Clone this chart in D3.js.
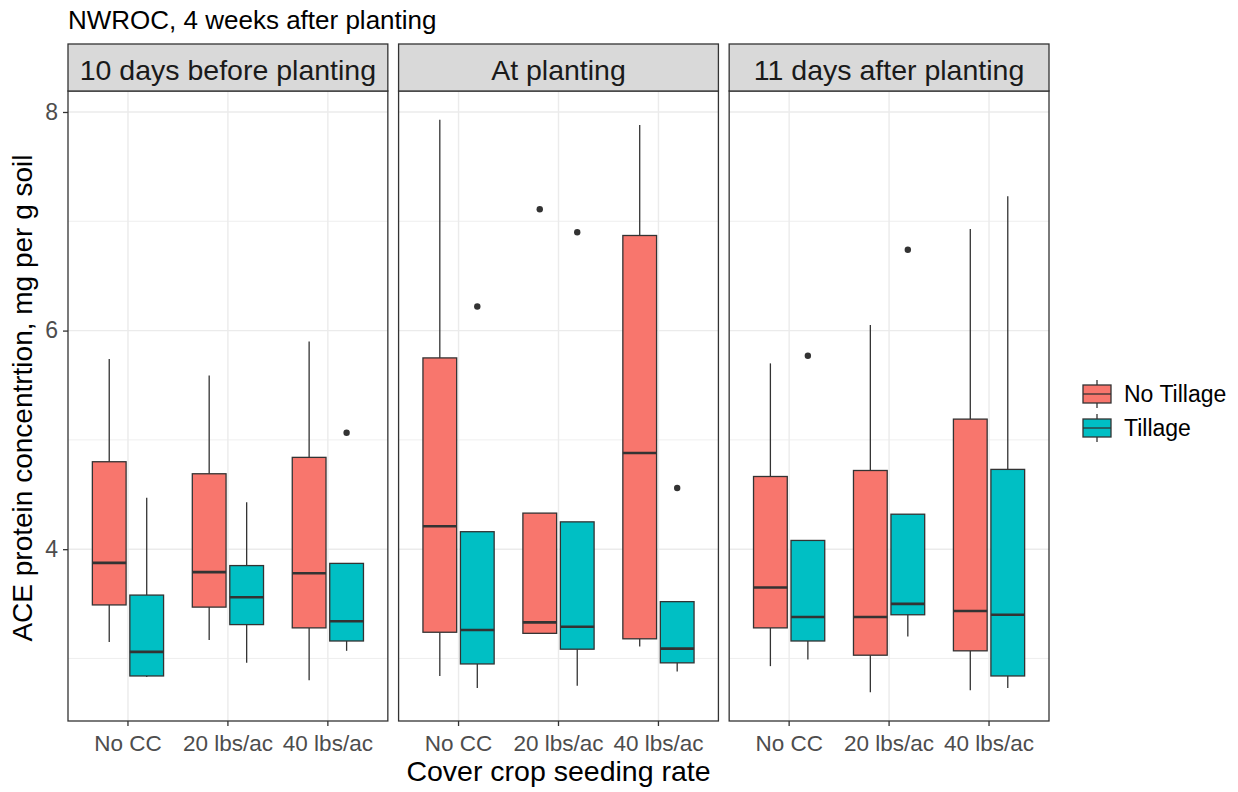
<!DOCTYPE html>
<html>
<head>
<meta charset="utf-8">
<script src="https://cdn.jsdelivr.net/npm/d3@7"></script>
<style>
  body { margin: 0; background: #fff; }
  svg { display: block; font-family: "Liberation Sans", Arial, sans-serif; }
</style>
</head>
<body>
<svg id="chart" width="1238" height="792"></svg>
<script>
// facets, categories and groups
const timings = ["10 days before planting", "At planting", "11 days after planting"];
const rates = ["No CC", "20 lbs/ac", "40 lbs/ac"];
const tillages = ["No Tillage", "Tillage"];
const yTicks = [4, 6, 8];
const yMinor = [3, 5, 7];

// box stats [lower whisker, q1, median, q3, upper whisker], ordered timing x rate
const noTillStats = [
  [3.15, 3.49, 3.875, 4.80, 5.74], [3.17, 3.47, 3.79, 4.69, 5.59], [2.80, 3.28, 3.78, 4.84, 5.90],
  [2.84, 3.24, 4.21, 5.75, 7.93], [3.23, 3.23, 3.33, 4.33, 4.33], [3.11, 3.18, 4.88, 6.87, 7.88],
  [2.93, 3.28, 3.65, 4.665, 5.70], [2.69, 3.03, 3.38, 4.72, 6.05], [2.71, 3.07, 3.435, 5.19, 6.93]
];
const tillStats = [
  [2.83, 2.84, 3.06, 3.58, 4.47], [2.96, 3.31, 3.56, 3.85, 4.43], [3.07, 3.16, 3.34, 3.87, 3.87],
  [2.73, 2.95, 3.26, 4.16, 4.16], [2.75, 3.085, 3.29, 4.25, 4.25], [2.88, 2.96, 3.09, 3.52, 3.52],
  [2.99, 3.16, 3.38, 4.08, 4.08], [3.20, 3.40, 3.50, 4.32, 4.32], [2.73, 2.84, 3.40, 4.73, 7.23]
];
// outliers: [timing, rate, tillage, value]
const outliers = [
  ["10 days before planting", "40 lbs/ac", "Tillage", 5.065],
  ["At planting", "No CC", "Tillage", 6.22],
  ["At planting", "20 lbs/ac", "No Tillage", 7.11],
  ["At planting", "20 lbs/ac", "Tillage", 6.90],
  ["At planting", "40 lbs/ac", "Tillage", 4.56],
  ["11 days after planting", "No CC", "Tillage", 5.77],
  ["11 days after planting", "20 lbs/ac", "Tillage", 6.74]
];

const colors = { "No Tillage": "#F8766D", "Tillage": "#00BFC4" };
const ink = "#333333";

const boxes = [];
timings.forEach((t, ti) => rates.forEach((r, ri) => {
  const k = ti * rates.length + ri;
  [noTillStats[k], tillStats[k]].forEach((s, gi) => {
    boxes.push({ timing: t, rate: r, tillage: tillages[gi], lo: s[0], q1: s[1], med: s[2], q3: s[3], hi: s[4] });
  });
}));

const svg = d3.select("#chart");
const plotLeft = 68, plotRight = 1049, stripTop = 44, stripH = 47;
const panelTop = stripTop + stripH, panelBottom = 721;

const facet = d3.scaleBand().domain(timings).range([plotLeft, plotRight]).paddingInner(0.0325);
const x = d3.scaleBand().domain(rates).range([0, facet.bandwidth()]).paddingInner(0).paddingOuter(0.1);
const dodge = d3.scaleBand().domain(tillages).range([-x.bandwidth() * 0.375, x.bandwidth() * 0.375]);
const boxW = dodge.bandwidth() * 0.9;

const allVals = boxes.flatMap(b => [b.lo, b.hi]).concat(outliers.map(o => o[3]));
const yExt = d3.extent(allVals);
const pad = (yExt[1] - yExt[0]) * 0.05;
const y = d3.scaleLinear().domain([yExt[0] - pad, yExt[1] + pad]).range([panelBottom, panelTop]);

// title
svg.append("text").attr("x", plotLeft).attr("y", 29)
  .attr("font-size", 26).attr("fill", "#000").text("NWROC, 4 weeks after planting");

timings.forEach(t => {
  const g = svg.append("g").attr("transform", `translate(${facet(t)},0)`);
  const w = facet.bandwidth();

  // grid
  g.selectAll(".minor").data(yMinor).join("line")
    .attr("x1", 0).attr("x2", w).attr("y1", d => y(d)).attr("y2", d => y(d))
    .attr("stroke", "#EBEBEB").attr("stroke-width", 0.8);
  g.selectAll(".major").data(yTicks).join("line")
    .attr("x1", 0).attr("x2", w).attr("y1", d => y(d)).attr("y2", d => y(d))
    .attr("stroke", "#EBEBEB").attr("stroke-width", 1.4);
  g.selectAll(".vgrid").data(rates).join("line")
    .attr("x1", d => x(d) + x.bandwidth() / 2).attr("x2", d => x(d) + x.bandwidth() / 2)
    .attr("y1", panelTop).attr("y2", panelBottom)
    .attr("stroke", "#EBEBEB").attr("stroke-width", 1.4);

  const bx = boxes.filter(b => b.timing === t);
  const cx = b => x(b.rate) + x.bandwidth() / 2 + dodge(b.tillage) + dodge.bandwidth() / 2;

  // whiskers
  g.selectAll(".wh").data(bx).join("g").each(function (b) {
    const s = d3.select(this);
    s.append("line").attr("x1", cx(b)).attr("x2", cx(b)).attr("y1", y(b.q3)).attr("y2", y(b.hi))
      .attr("stroke", ink).attr("stroke-width", 1.3);
    s.append("line").attr("x1", cx(b)).attr("x2", cx(b)).attr("y1", y(b.q1)).attr("y2", y(b.lo))
      .attr("stroke", ink).attr("stroke-width", 1.3);
  });

  // boxes
  g.selectAll(".box").data(bx).join("rect")
    .attr("x", b => cx(b) - boxW / 2).attr("width", boxW)
    .attr("y", b => y(b.q3)).attr("height", b => y(b.q1) - y(b.q3))
    .attr("fill", b => colors[b.tillage]).attr("stroke", ink).attr("stroke-width", 1.3);
  g.selectAll(".med").data(bx).join("line")
    .attr("x1", b => cx(b) - boxW / 2).attr("x2", b => cx(b) + boxW / 2)
    .attr("y1", b => y(b.med)).attr("y2", b => y(b.med))
    .attr("stroke", ink).attr("stroke-width", 2.6);

  // outliers
  g.selectAll(".out").data(outliers.filter(o => o[0] === t)).join("circle")
    .attr("cx", o => x(o[1]) + x.bandwidth() / 2 + dodge(o[2]) + dodge.bandwidth() / 2)
    .attr("cy", o => y(o[3])).attr("r", 3.2).attr("fill", ink);

  // panel border
  g.append("rect").attr("x", 0).attr("y", panelTop).attr("width", w).attr("height", panelBottom - panelTop)
    .attr("fill", "none").attr("stroke", ink).attr("stroke-width", 1.3);

  // strip
  g.append("rect").attr("x", 0).attr("y", stripTop).attr("width", w).attr("height", stripH)
    .attr("fill", "#D9D9D9").attr("stroke", ink).attr("stroke-width", 1.3);
  g.append("text").attr("x", w / 2).attr("y", stripTop + 35.5).attr("text-anchor", "middle")
    .attr("font-size", 28.5).attr("fill", "#1A1A1A").text(t);

  // x axis
  const xa = g.append("g").attr("transform", `translate(0,${panelBottom})`)
    .call(d3.axisBottom(x).tickSize(5).tickPadding(9).tickSizeOuter(0));
  xa.select(".domain").remove();
  xa.selectAll("line").attr("stroke", ink).attr("stroke-width", 1.3);
  xa.selectAll("text").attr("font-size", 22.5).attr("fill", "#4D4D4D").attr("font-family", null);
});

// y axis
const ya = svg.append("g").attr("transform", `translate(${plotLeft},0)`)
  .call(d3.axisLeft(y).tickValues(yTicks).tickFormat(d3.format("d")).tickSize(5).tickPadding(5).tickSizeOuter(0));
ya.select(".domain").remove();
ya.selectAll("line").attr("stroke", ink).attr("stroke-width", 1.3);
ya.selectAll("text").attr("font-size", 23).attr("fill", "#4D4D4D").attr("font-family", null);

// axis titles
svg.append("text").attr("x", (plotLeft + plotRight) / 2).attr("y", 781).attr("text-anchor", "middle")
  .attr("font-size", 28.5).attr("fill", "#000").text("Cover crop seeding rate");
svg.append("text").attr("transform", `translate(32,${(panelTop + panelBottom) / 2 - 8}) rotate(-90)`)
  .attr("text-anchor", "middle").attr("font-size", 28).attr("fill", "#000")
  .text("ACE protein concentrtion, mg per g soil");

// legend
const legend = svg.append("g").attr("transform", "translate(1083,380)");
tillages.forEach((t, i) => {
  const lg = legend.append("g").attr("transform", `translate(0,${i * 34})`);
  lg.append("line").attr("x1", 14).attr("x2", 14).attr("y1", 0).attr("y2", 28)
    .attr("stroke", ink).attr("stroke-width", 1.3);
  lg.append("rect").attr("x", 0).attr("y", 5).attr("width", 28).attr("height", 18)
    .attr("fill", colors[t]).attr("stroke", ink).attr("stroke-width", 1.3);
  lg.append("line").attr("x1", 0).attr("x2", 28).attr("y1", 14).attr("y2", 14)
    .attr("stroke", ink).attr("stroke-width", 1.3);
  lg.append("text").attr("x", 41).attr("y", 14).attr("dy", "0.36em")
    .attr("font-size", 23).attr("fill", "#000").text(t);
});
</script>
</body>
</html>
